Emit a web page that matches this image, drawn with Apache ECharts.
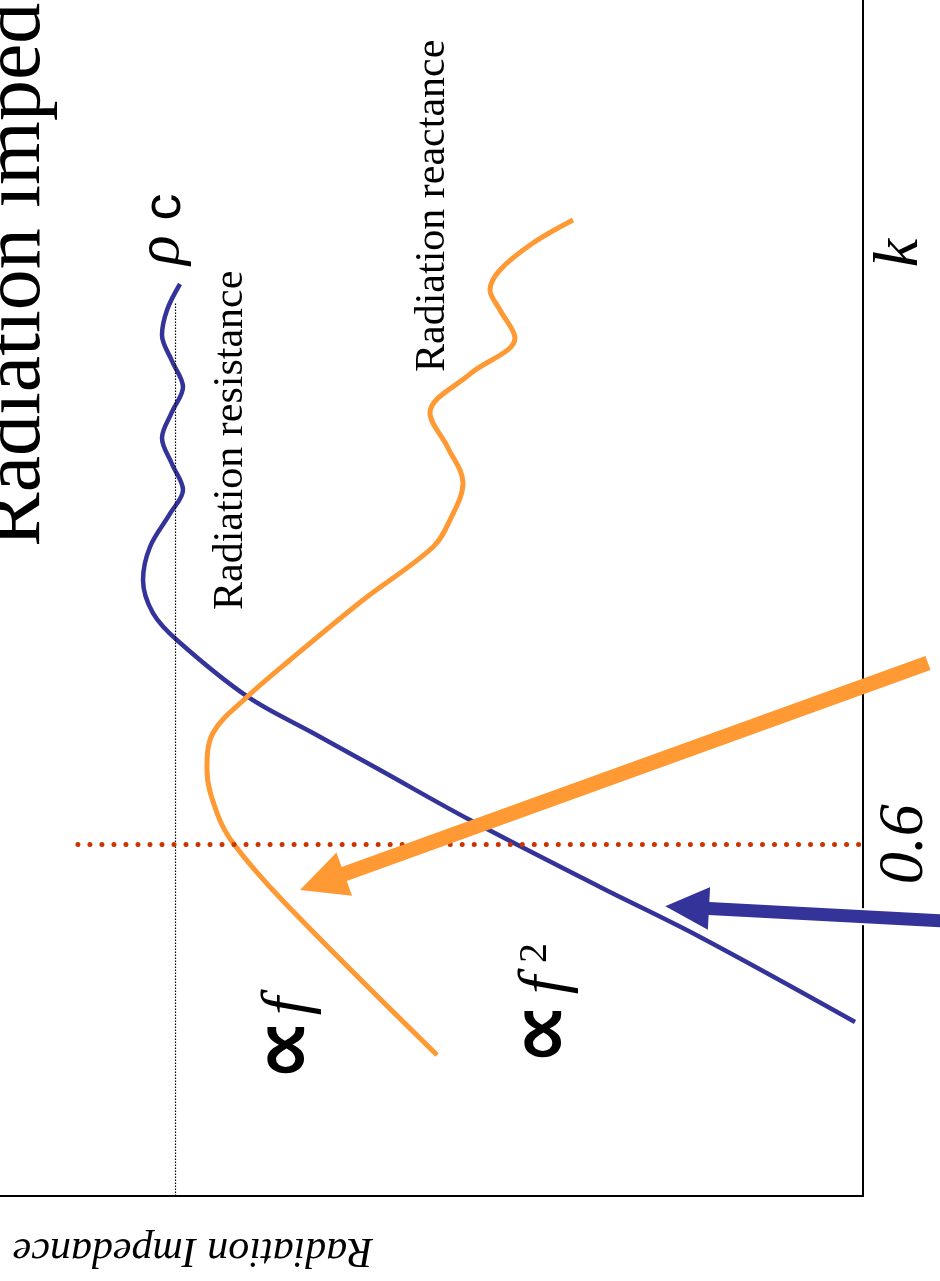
<!DOCTYPE html>
<html>
<head>
<meta charset="utf-8">
<script src="https://cdn.jsdelivr.net/npm/echarts@6/dist/echarts.min.js"></script>
<style>
  html, body { margin: 0; padding: 0; background: #ffffff; }
  #chart { width: 940px; height: 1281px; }
</style>
</head>
<body>
<div id="chart"></div>
<script>
// Radiation impedance of a piston, normalised to rho*c, against wavenumber k.
// The figure is laid out turned a quarter turn: k runs upward, impedance leftward.

const kMax = 2.04;          // top of the k axis
const zMax = 1.255;         // far end of the impedance axis
const rhoC = 1.0;           // plane-wave limit rho*c
const rhoCTop = 1.523;      // k where the rho*c guide line stops
const kMark = 0.6;          // marked wavenumber
const kMarkFrom = 1.1417;   // impedance where the k = 0.6 guide line starts
const kTickLabels = ['0.6'];

// Radiation resistance: [impedance / rho c, k]
const resistance = [
  [0.0116, 0.2968], [0.2370, 0.4418], [0.3825, 0.5271], [0.5715, 0.6413],
  [0.7024, 0.7266], [0.7998, 0.7897], [0.8944, 0.8512], [0.9962, 0.9467],
  [1.0325, 0.9944], [1.0470, 1.0507], [1.0369, 1.1070], [1.0071, 1.1650],
  [0.9889, 1.2042], [1.0049, 1.2486], [1.0194, 1.2929], [1.0049, 1.3373],
  [0.9889, 1.3799], [1.0049, 1.4243], [1.0194, 1.4686], [1.0121, 1.5113],
  [0.9932, 1.5556]
];

// Radiation reactance: [impedance / rho c, k]
const reactance = [
  [0.6195, 0.2406], [0.8406, 0.4998], [0.9162, 0.6021],
  [0.9394, 0.6533], [0.9540, 0.7266], [0.9453, 0.7897], [0.8958, 0.8512],
  [0.8333, 0.9143], [0.7271, 1.0166], [0.6253, 1.1070], [0.6006, 1.1531],
  [0.5817, 1.2162], [0.6035, 1.2759], [0.6297, 1.3356], [0.5714, 1.4021],
  [0.5061, 1.4635], [0.5279, 1.5112], [0.5424, 1.5454], [0.5279, 1.5795],
  [0.4799, 1.6255], [0.4217, 1.6648]
];

// Pointer arrows: [tail impedance, tail k, tip impedance, tip k]
const reactanceArrow = [-0.0945, 0.9091, 0.8187, 0.5219];
const resistanceArrow = [-0.1192, 0.4691, 0.2908, 0.4946];

const BLUE = '#333399';
const ORANGE = '#FF9933';
const RED = '#CC3300';
const SERIF = '"Liberation Serif", "Times New Roman", serif';
const SANS = '"Liberation Sans", Arial, sans-serif';
const QUARTER = Math.PI / 2;

const chart = echarts.init(document.getElementById('chart'), null, { renderer: 'canvas' });

function renderArrow(params, api) {
  const a = api.coord([api.value(0), api.value(1)]);
  const b = api.coord([api.value(2), api.value(3)]);
  const dx = b[0] - a[0], dy = b[1] - a[1];
  const len = Math.hypot(dx, dy);
  const ux = dx / len, uy = dy / len;
  const nx = -uy, ny = ux;
  const shaft = 7.5, headLen = 47, headHalf = 23;
  const bx = b[0] - ux * headLen, by = b[1] - uy * headLen;
  const pts = [
    [a[0] + nx * shaft, a[1] + ny * shaft],
    [bx + nx * shaft, by + ny * shaft],
    [bx + nx * headHalf, by + ny * headHalf],
    [b[0], b[1]],
    [bx - nx * headHalf, by - ny * headHalf],
    [bx - nx * shaft, by - ny * shaft],
    [a[0] - nx * shaft, a[1] - ny * shaft]
  ];
  const style = api.style();
  return {
    type: 'polygon',
    shape: { points: pts },
    style: { fill: style.fill, stroke: params.dataIndex === 1 ? '#ffffff' : null, lineWidth: 2 }
  };
}

function rotText(x, y, text, font, rotation, align) {
  return {
    type: 'text', x: x, y: y, rotation: rotation, silent: true,
    style: {
      text: text, font: font, fill: '#000000',
      align: align, verticalAlign: 'middle',
      textAlign: align, textVerticalAlign: 'middle'
    }
  };
}

const option = {
  animation: false,
  backgroundColor: '#ffffff',
  grid: { left: 0, right: 77, top: 0, bottom: 85, containLabel: false, outerBoundsMode: 'none' },
  xAxis: {
    type: 'value', inverse: true, min: 0, max: zMax, position: 'bottom',
    axisLine: { show: true, onZero: false, lineStyle: { color: '#000000', width: 2 } },
    axisTick: { show: false }, axisLabel: { show: false }, splitLine: { show: false }
  },
  yAxis: {
    type: 'value', min: 0, max: kMax, interval: kMark, position: 'right',
    axisLine: { show: true, onZero: false, lineStyle: { color: '#000000', width: 2 } },
    axisTick: { show: false }, splitLine: { show: false },
    axisLabel: {
      show: true, rotate: 90, margin: 10, color: '#000000',
      fontFamily: SERIF, fontStyle: 'italic', fontSize: 64,
      showMinLabel: true, showMaxLabel: false,
      formatter: function (v) {
        return Math.abs(v - kMark) < 1e-9 ? kTickLabels[0] : '';
      }
    }
  },
  series: [
    {
      name: 'Radiation resistance', type: 'line', data: resistance,
      smooth: 0.35, showSymbol: false, symbol: 'none', clip: false,
      lineStyle: { color: BLUE, width: 4.5, join: 'round' }, z: 3,
      markLine: {
        silent: true, symbol: 'none', label: { show: false }, animation: false,
        data: [
          [
            { coord: [rhoC, 0], lineStyle: { color: '#000000', width: 1.2, type: [1.5, 1.5] } },
            { coord: [rhoC, rhoCTop] }
          ],
          [
            { coord: [kMarkFrom, kMark], lineStyle: { color: RED, width: 5, type: [0.01, 12], cap: 'round' } },
            { coord: [0, kMark] }
          ]
        ]
      }
    },
    {
      name: 'Radiation reactance', type: 'line', data: reactance,
      smooth: 0.35, showSymbol: false, symbol: 'none', clip: false,
      lineStyle: { color: ORANGE, width: 5, join: 'round' }, z: 3
    },
    {
      name: 'pointers', type: 'custom', clip: false, z: 5,
      renderItem: renderArrow,
      encode: { x: [0, 2], y: [1, 3] },
      data: [
        { value: reactanceArrow, itemStyle: { color: ORANGE } },
        { value: resistanceArrow, itemStyle: { color: BLUE } }
      ]
    }
  ],
  graphic: {
    elements: [
      rotText(17, 547, 'Radiation impedance', '82px ' + SERIF, QUARTER, 'left'),
      rotText(162, 250, 'ρ', 'italic 62px ' + SERIF, QUARTER, 'center'),
      rotText(165, 207, 'c', '54px ' + SANS, QUARTER, 'center'),
      rotText(231, 610, 'Radiation resistance', '42px ' + SERIF, QUARTER, 'left'),
      rotText(433, 372, 'Radiation reactance', '42px ' + SERIF, QUARTER, 'left'),
      rotText(900, 253, 'k', 'italic 64px ' + SERIF, QUARTER, 'center'),
      rotText(289, 1050, '∝', 'bold 88px "DejaVu Sans"', QUARTER, 'center'),
      rotText(290, 1006, 'f', 'italic 66px ' + SERIF, QUARTER, 'center'),
      rotText(546, 1034, '∝', 'bold 88px "DejaVu Sans"', QUARTER, 'center'),
      rotText(547, 985, 'f', 'italic 66px ' + SERIF, QUARTER, 'center'),
      rotText(535, 953, '2', '40px ' + SERIF, QUARTER, 'center'),
      rotText(373, 1250, 'Radiation Impedance', 'italic 42px ' + SERIF, Math.PI, 'left')
    ]
  }
};

chart.setOption(option);
</script>
</body>
</html>
